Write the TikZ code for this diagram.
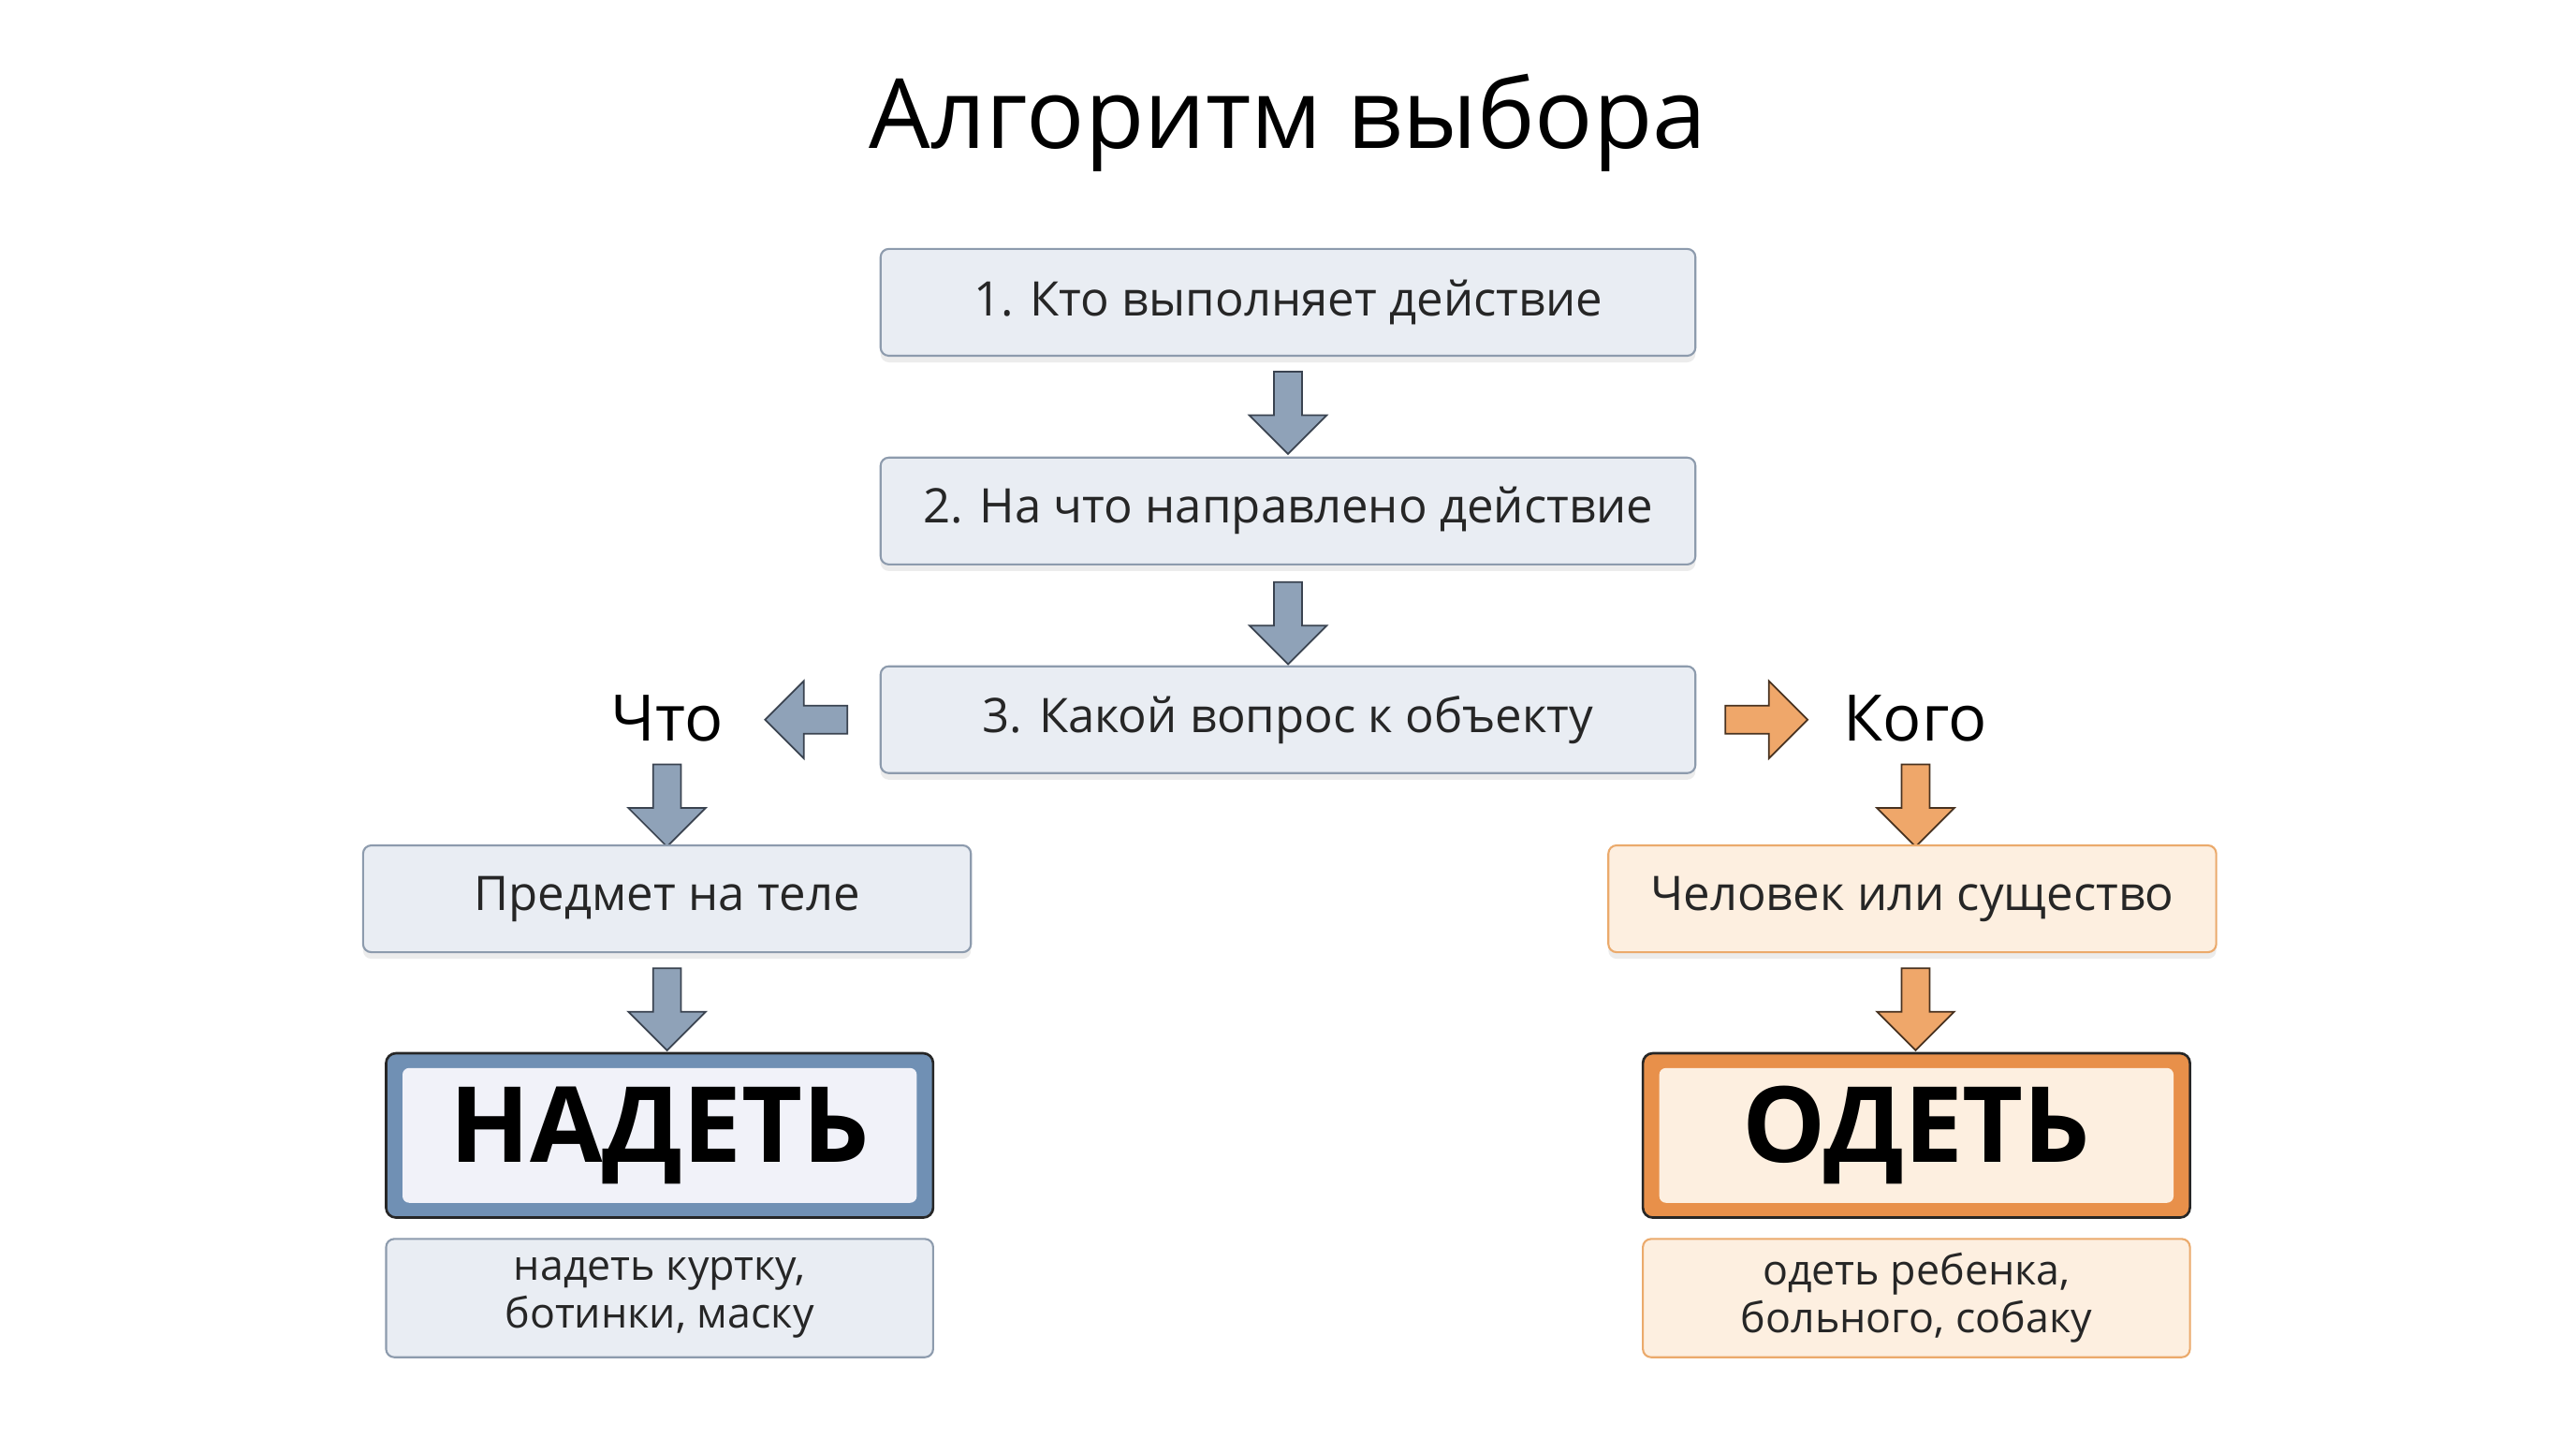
\documentclass[tikz,border=0pt]{standalone}
\usepackage{fontspec}
\setmainfont{Open Sans}
\usetikzlibrary{shapes.arrows,shadows}
\definecolor{bfill}{HTML}{E9EDF3}
\definecolor{bline}{HTML}{8D9BAD}
\definecolor{ofill}{HTML}{FDEFE0}
\definecolor{oline}{HTML}{EBAA6C}
\definecolor{barrow}{HTML}{8FA2B8}
\definecolor{oarrow}{HTML}{EFA76A}
\definecolor{dark}{HTML}{3A4350}
\definecolor{bigblue}{HTML}{7090B4}
\definecolor{bigorange}{HTML}{E8904A}
\begin{document}
\begin{tikzpicture}[x=1pt,y=-1pt,
  box/.style={draw=bline,fill=bfill,rounded corners=5pt,line width=1.2pt,minimum width=496pt,minimum height=65pt,font=\fontsize{29}{33}\selectfont,text=black!85,drop shadow={shadow xshift=0pt,shadow yshift=-4pt,opacity=0.15}},
  obox/.style={box,draw=oline,fill=ofill},
  big/.style={rounded corners=6pt,line width=1.5pt,draw=black!85,minimum width=333pt,minimum height=100pt},
  bigt/.style={font=\fontsize{64}{70}\selectfont\bfseries},
  ex/.style={rounded corners=5pt,line width=1.2pt,minimum width=333pt,minimum height=72pt,align=center,font=\fontsize{25.5}{29}\selectfont,text=black!85},
  barr/.style={single arrow,draw=dark,line width=1pt,fill=barrow,inner sep=8pt,single arrow head extend=15pt,minimum height=50pt,single arrow tip angle=90},
  oarr/.style={barr,fill=oarrow,draw=black!70!oarrow},
  lab/.style={font=\fontsize{39}{43}\selectfont}]
\useasboundingbox[fill=white] (0,0) rectangle (1568,875);
\node (t) at (784,75) {\fontsize{59}{66}\selectfont Алгоритм выбора};
\node[box] (b1) at (784,184) {1. Кто выполняет действие};
\node[box] (b2) at (784,311) {2. На что направлено действие};
\node[box] (b3) at (784,438) {3. Какой вопрос к объекту};
\node[barr,shape border rotate=270] (a1) at (784,247) {};
\node[barr,shape border rotate=270] (a2) at (784,375) {};
\node[barr,shape border rotate=180] (al) at (495,438) {};
\node[oarr] (ar) at (1071,438) {};
\node[lab] (cto) at (406,437) {Что};
\node[lab] (kogo) at (1166,437) {Кого};
\node[barr,shape border rotate=270] (a3) at (406,486) {};
\node[oarr,shape border rotate=270] (a4) at (1166,486) {};
\node[box,minimum width=370pt] (p) at (406,547) {Предмет на теле};
\node[obox,minimum width=370pt] (c) at (1164,547) {Человек или существо};
\node[barr,shape border rotate=270] (a5) at (406,610) {};
\node[oarr,shape border rotate=270] (a6) at (1166,610) {};
\node[big,fill=bigblue] (n) at (401.5,691) {};
\node[rounded corners=4pt,fill=blue!3!bfill!50!white,minimum width=313pt,minimum height=82pt] at (n) {};
\node[bigt] at (n) {НАДЕТЬ};
\node[big,fill=bigorange] (o) at (1166.5,691) {};
\node[rounded corners=4pt,fill=ofill,minimum width=313pt,minimum height=82pt] at (o) {};
\node[bigt] at (o) {ОДЕТЬ};
\node[ex,draw=bline,fill=bfill] (ne) at (401.5,790) {надеть куртку,\\ботинки, маску};
\node[ex,draw=oline,fill=ofill] (oe) at (1166.5,790) {одеть ребенка,\\больного, собаку};
\end{tikzpicture}
\end{document}
